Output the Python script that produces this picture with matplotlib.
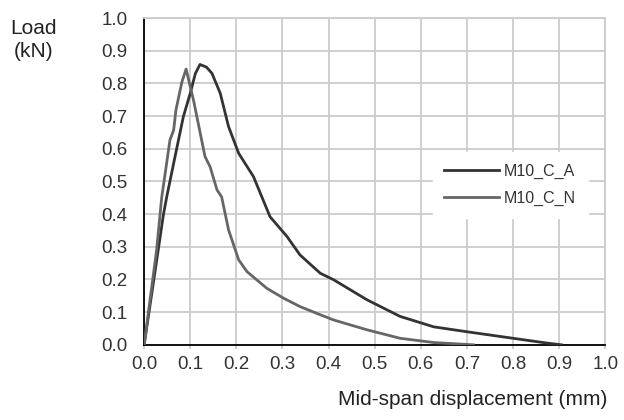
import matplotlib
matplotlib.use("Agg")
import matplotlib.pyplot as plt

plt.rcParams['font.family'] = ['Liberation Sans', 'DejaVu Sans']

# Curvas carga-desplazamiento
x_a = [0.0, 0.02, 0.042, 0.049, 0.067, 0.085, 0.1, 0.111, 0.121, 0.135, 0.147, 0.165,
       0.183, 0.205, 0.237, 0.273, 0.31, 0.338, 0.382, 0.411, 0.483, 0.555, 0.628,
       0.70, 0.80, 0.87, 0.905]
y_a = [0.0, 0.19, 0.40, 0.453, 0.576, 0.698, 0.77, 0.83, 0.858, 0.85, 0.831, 0.77,
       0.668, 0.586, 0.515, 0.392, 0.331, 0.275, 0.219, 0.199, 0.138, 0.087, 0.055,
       0.04, 0.02, 0.006, 0.0]

x_n = [0.0, 0.027, 0.038, 0.056, 0.064, 0.069, 0.082, 0.091, 0.1, 0.107, 0.132, 0.143,
       0.158, 0.168, 0.183, 0.205, 0.223, 0.266, 0.302, 0.338, 0.382, 0.411, 0.483,
       0.555, 0.628, 0.714]
y_n = [0.0, 0.29, 0.45, 0.627, 0.657, 0.719, 0.805, 0.844, 0.79, 0.749, 0.576, 0.545,
       0.474, 0.453, 0.352, 0.26, 0.224, 0.173, 0.143, 0.117, 0.092, 0.076, 0.046,
       0.02, 0.007, 0.0]

ticks = [i / 10 for i in range(11)]
tick_labels = ["%.1f" % t for t in ticks]

fig = plt.figure(figsize=(6.24, 4.2), dpi=100)
ax = fig.add_axes([0.231, 0.179, 0.739, 0.778])

ax.plot(x_a, y_a, color="#333333", lw=2.0, label="M10_C_A", zorder=3)
ax.plot(x_n, y_n, color="#666666", lw=2.0, label="M10_C_N", zorder=3)

ax.set_xlim(0, 1)
ax.set_ylim(0, 1)
ax.set_xticks(ticks)
ax.set_xticklabels(tick_labels)
ax.set_yticks(ticks)
ax.set_yticklabels(tick_labels)
ax.grid(True, color="#cccccc", lw=1.3)
ax.set_axisbelow(True)
ax.tick_params(axis="x", length=3, width=1.3, color="#cccccc", labelsize=13.5, pad=5, labelcolor="#333333")
ax.tick_params(axis="y", length=0, labelsize=13.5, pad=12, labelcolor="#333333")

for s in ["top", "right"]:
    ax.spines[s].set_color("#cccccc")
    ax.spines[s].set_linewidth(1.3)
for s in ["left", "bottom"]:
    ax.spines[s].set_color("black")
    ax.spines[s].set_linewidth(1.3)

leg = ax.legend(loc="upper left", bbox_to_anchor=(0.608, 0.616), frameon=True,
                fancybox=False, edgecolor="white", framealpha=1, fontsize=11.5,
                handlelength=3.4, handletextpad=0.3, labelspacing=0.75,
                borderpad=0.75)
for t in leg.get_texts():
    t.set_color("#333333")

fig.text(0.053, 0.905, "Load\n(kN)", ha="center", va="center", fontsize=15,
         linespacing=1.3, color="#222222")
fig.text(0.974, 0.048, "Mid-span displacement (mm)", ha="right", va="center",
         fontsize=15, color="#222222")

fig.savefig("out.png", dpi=100)
